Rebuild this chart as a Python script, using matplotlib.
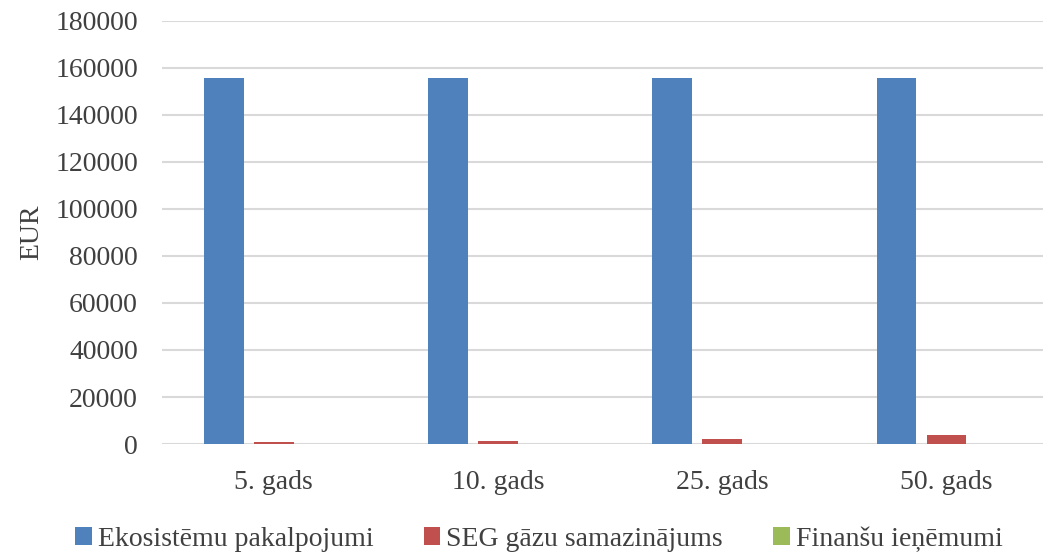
import numpy as np
import matplotlib.pyplot as plt

# chart data
years = ['5. gads', '10. gads', '25. gads', '50. gads']
ekosistemu = [155500, 155500, 155500, 155500]
seg_gazu = [700, 1200, 2300, 4000]
finansu = [10, 20, 50, 100]
series_names = ['Ekosistēmu pakalpojumi', 'SEG gāzu samazinājums', 'Finanšu ieņēmumi']
colors = ['#4f81bd', '#c0504d', '#9bbb59']

plt.rcParams['font.family'] = ['Liberation Serif', 'DejaVu Serif']

fig = plt.figure(figsize=(10.43, 5.56), dpi=100)
ax = fig.add_axes([0.155, 0.2014, 0.86, 0.761])

x = np.arange(len(years))
w = 0.178
step = 0.223
for i, (vals, name) in enumerate(zip([ekosistemu, seg_gazu, finansu], series_names)):
    ax.bar(x + (i - 1) * step, vals, width=w, color=colors[i], label=name, zorder=3)

ax.set_ylim(0, 180000)
ax.set_yticks(np.arange(0, 180001, 20000))
ax.set_xlim(-0.5, 3.5)
ax.set_xticks(x)
ax.set_xticklabels(years)
ax.grid(axis='y', color='#d9d9d9', linewidth=1.5, zorder=0)
for s in ['top', 'right', 'left', 'bottom']:
    ax.spines[s].set_visible(False)
ax.tick_params(length=0, labelsize=20, colors='#404040')
ax.tick_params(axis='y', pad=17)
ax.tick_params(axis='x', pad=19)
ax.set_ylabel('EUR', fontsize=20, color='#404040', labelpad=8)

fig.legend(loc='center left', bbox_to_anchor=(0.072, 0.03), ncol=3, frameon=False,
           fontsize=20, handlelength=0.6, handleheight=0.6, handletextpad=0.22,
           columnspacing=1.8, borderpad=0, borderaxespad=0, labelcolor='#404040')

fig.savefig('out.png', dpi=100)
